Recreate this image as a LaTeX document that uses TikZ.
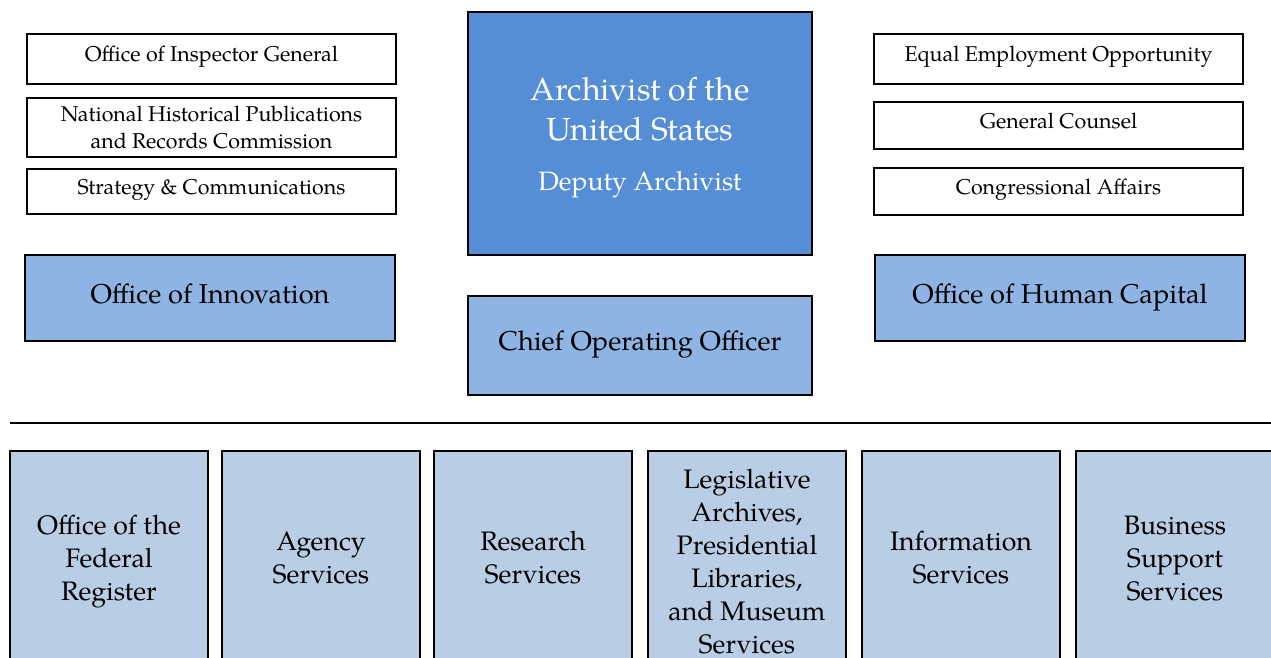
\documentclass[tikz,border=0pt]{standalone}
\usepackage{fontspec}
\setmainfont{TeX Gyre Pagella}
\definecolor{archblue}{HTML}{558ED5}
\definecolor{midblue}{HTML}{8EB4E3}
\definecolor{paleblue}{HTML}{B9CDE5}
\begin{document}
\begin{tikzpicture}[x=1pt,y=-1pt,
  box/.style={draw=black,line width=1.4pt,rectangle,inner sep=0pt,outer sep=0pt,align=center,text=black},
  smallbox/.style={box,fill=white,minimum width=369,font=\fontsize{21.4}{27}\selectfont},
  oneline/.style={text height=14pt,text depth=8pt},
  midbox/.style={box,fill=midblue,font=\fontsize{27.2}{32}\selectfont,text height=18pt,text depth=8pt},
  unitbox/.style={box,fill=paleblue,minimum width=198,minimum height=219,font=\fontsize{26.7}{33}\selectfont},
  rule/.style={line width=1.6pt,draw=black}]
\useasboundingbox (0,0) rectangle (1271,658);
% left column
\node[smallbox,oneline,minimum height=50] (ig) at (211.5,59) {Office of Inspector General};
\node[smallbox,minimum height=59] (nhp) at (211.5,127.5) {National Historical Publications\\and Records Commission};
\node[smallbox,oneline,minimum height=45] (sc) at (211.5,191.5) {Strategy \& Communications};
\node[midbox,minimum width=370,minimum height=86] (innov) at (210,298) {Office of Innovation};
% centre
\node[box,fill=archblue,text=white,minimum width=344,minimum height=243,font=\fontsize{32}{40}\selectfont] (arch) at (640,133.5)
  {\rule{0pt}{32pt}Archivist of the\\United States\\[10pt]{\fontsize{26.5}{30}\selectfont Deputy Archivist}};
\node[midbox,minimum width=344,minimum height=99] (coo) at (640,345.5) {Chief Operating Officer};
% right column
\node[smallbox,oneline,minimum height=50] (eeo) at (1058.5,59) {Equal Employment Opportunity};
\node[smallbox,oneline,minimum height=47] (gc) at (1058.5,125.5) {General Counsel};
\node[smallbox,oneline,minimum height=47] (ca) at (1058.5,191.5) {Congressional Affairs};
\node[midbox,minimum width=370,minimum height=86] (hc) at (1060,298) {Office of Human Capital};
% divider
\coordinate (ruleL) at (10,423);
\coordinate (ruleR) at (1271,423);
\draw[rule] (ruleL) -- (ruleR);
% units
\node[unitbox] (ofr) at (109,560.5) {Office of the\strut\\Federal\strut\\Register\strut};
\node[unitbox] (as) at (321,560.5) {Agency\strut\\Services\strut};
\node[unitbox] (rs) at (533,560.5) {Research\strut\\Services\strut};
\node[unitbox] (la) at (747,560.5) {\rule{0pt}{30pt}Legislative\strut\\Archives,\strut\\Presidential\strut\\Libraries,\strut\\and Museum\strut\\Services\strut};
\node[unitbox] (is) at (961,560.5) {Information\strut\\Services\strut};
\node[unitbox] (bs) at (1175,560.5) {Business\strut\\Support\strut\\Services\strut};
\end{tikzpicture}
\end{document}
